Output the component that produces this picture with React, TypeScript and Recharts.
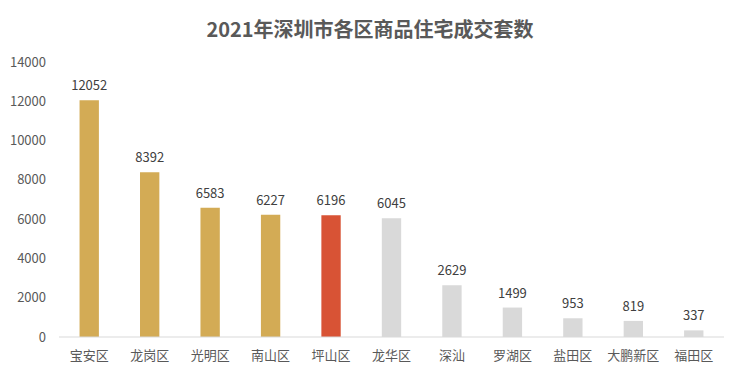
import React from "react";
import { BarChart, Bar, XAxis, YAxis, Cell, LabelList } from "recharts";

const districts = ["宝安区", "龙岗区", "光明区", "南山区", "坪山区", "龙华区", "深汕", "罗湖区", "盐田区", "大鹏新区", "福田区"];
const values = [12052, 8392, 6583, 6227, 6196, 6045, 2629, 1499, 953, 819, 337];
const colors = ["#D3AB55", "#D3AB55", "#D3AB55", "#D3AB55", "#D85335", "#D9D9D9", "#D9D9D9", "#D9D9D9", "#D9D9D9", "#D9D9D9", "#D9D9D9"];
const yTicks = [0, 2000, 4000, 6000, 8000, 10000, 12000, 14000];
const title = "2021年深圳市各区商品住宅成交套数";

const data = districts.map((d, i) => ({ name: d, value: values[i] }));
const font = "'Noto Sans CJK SC', 'Noto Sans', sans-serif";

export default function App() {
  return (
    <div style={{ position: "absolute", left: 0, top: 0, width: 740, height: 378, background: "#fff", fontFamily: font }}>
      <div style={{ position: "absolute", left: 0, top: 14, width: 740, textAlign: "center", fontSize: 20, fontWeight: 700, color: "#595959", lineHeight: "30px" }}>
        {title}
      </div>
      <BarChart width={740} height={378} data={data} margin={{ top: 62, right: 16, left: 0, bottom: 11 }} barCategoryGap="66%">
        <XAxis dataKey="name" axisLine={{ stroke: "#D9D9D9" }} tickLine={false} interval={0} height={30} tickMargin={8}
          tick={{ fill: "#595959", fontSize: 13, fontFamily: font }} />
        <YAxis domain={[0, 14000]} ticks={yTicks} width={59} axisLine={false} tickLine={false} tickMargin={7}
          tick={{ fill: "#595959", fontSize: 13, fontFamily: font }} />
        <Bar dataKey="value" isAnimationActive={false}>
          {data.map((d, i) => <Cell key={d.name} fill={colors[i]} />)}
          <LabelList dataKey="value" position="top" offset={10} fill="#404040" fontSize={13} fontFamily={font} />
        </Bar>
      </BarChart>
    </div>
  );
}
